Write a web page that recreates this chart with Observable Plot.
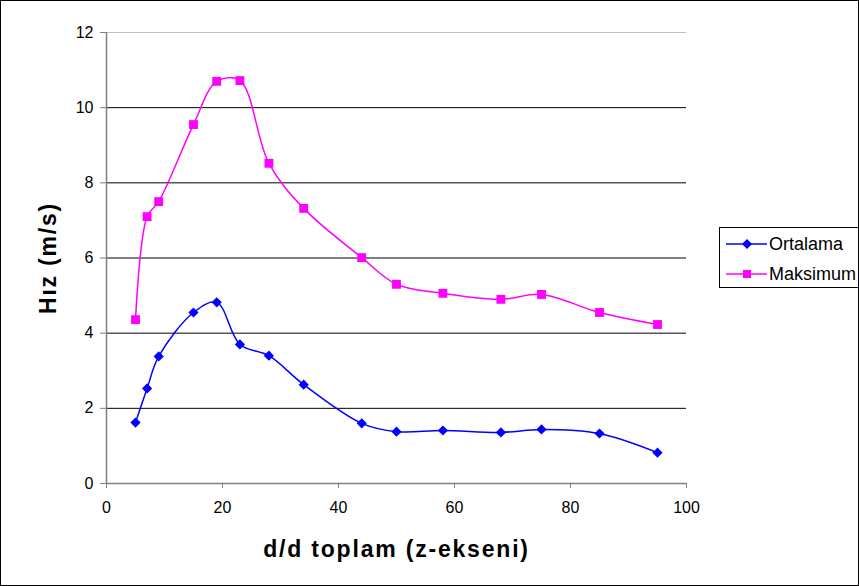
<!DOCTYPE html>
<html><head><meta charset="utf-8">
<script src="https://cdn.jsdelivr.net/npm/d3@7"></script>
<script src="https://cdn.jsdelivr.net/npm/@observablehq/plot@0.6"></script>
<style>
html,body{margin:0;padding:0;background:#fff;}
#wrap{position:relative;width:859px;height:586px;font-family:"Liberation Sans",Arial,sans-serif;overflow:hidden;}
#frame{position:absolute;left:0;top:0;width:857px;height:584px;border:1px solid #000;pointer-events:none;}
#legend{position:absolute;left:719px;top:227px;width:150px;height:59px;border:1px solid #000;background:#fff;font-size:18px;}
.row{position:absolute;left:0;height:24px;display:flex;align-items:center;}
</style>
</head><body>
<div id="wrap"><div id="chart"></div>
<div id="legend"></div>
<div id="frame"></div></div>
<script>
const xValues = [5, 7, 9, 15, 19, 23, 28, 34, 44, 50, 58, 68, 75, 85, 95];
const ortalama = [1.62, 2.53, 3.38, 4.55, 4.82, 3.70, 3.40, 2.63, 1.60, 1.38, 1.41, 1.36, 1.44, 1.33, 0.82];
const maksimum = [4.36, 7.10, 7.50, 9.55, 10.70, 10.72, 8.52, 7.32, 6.01, 5.30, 5.06, 4.90, 5.03, 4.55, 4.23];
const seriesNames = ["Ortalama", "Maksimum"];
const seriesColors = ["#0000ff", "#ff00ff"];
const xTicks = [0, 20, 40, 60, 80, 100];
const yTicks = [0, 2, 4, 6, 8, 10, 12];
const gridTicks = [2, 4, 6, 8, 10];

const ort = xValues.map((x, i) => ({x, y: ortalama[i]}));
const mak = xValues.map((x, i) => ({x, y: maksimum[i]}));

const chart = Plot.plot({
  width: 859, height: 586,
  marginLeft: 106, marginRight: 173, marginTop: 32, marginBottom: 103,
  style: {fontFamily: "Liberation Sans, Arial, sans-serif", fontSize: "16px", color: "#000", background: "transparent"},
  x: {domain: [0, 100], label: null},
  y: {domain: [0, 12], label: null},
  marks: [
    Plot.ruleY(gridTicks, {stroke: "#000", strokeWidth: 1}),
    Plot.ruleY([12], {stroke: "#c0c0c0", strokeWidth: 1}),
    Plot.ruleY([0], {stroke: "#808080", strokeWidth: 1.5}),
    Plot.ruleX([0], {stroke: "#808080", strokeWidth: 1.5}),
    Plot.axisX({ticks: xTicks, tickSize: 5, tickPadding: 13, stroke: "#808080", fill: "#000", fontSize: 16, label: null}),
    Plot.axisY({ticks: yTicks, tickSize: 6, tickPadding: 7, stroke: "#808080", fill: "#000", fontSize: 16, label: null}),
    Plot.line(ort, {x: "x", y: "y", stroke: seriesColors[0], strokeWidth: 1.5, curve: "catmull-rom"}),
    Plot.line(mak, {x: "x", y: "y", stroke: seriesColors[1], strokeWidth: 1.5, curve: "catmull-rom"}),
    Plot.dot(ort, {x: "x", y: "y", symbol: "diamond2", r: 4.6, fill: seriesColors[0], stroke: null}),
    Plot.dot(mak, {x: "x", y: "y", symbol: "square", r: 5, fill: seriesColors[1], stroke: null}),
    Plot.text(["d/d toplam (z-ekseni)"], {frameAnchor: "bottom", textAnchor: "middle", lineAnchor: "middle", dy: 66, fontSize: 23, fontWeight: "bold", fill: "#000", style: "letter-spacing:1.8px"}),
    Plot.text(["Hız (m/s)"], {frameAnchor: "left", textAnchor: "middle", lineAnchor: "middle", dx: -58, rotate: -90, fontSize: 23, fontWeight: "bold", fill: "#000"})
  ]
});
chart.querySelectorAll("text").forEach(t => {
  if (t.textContent === "d/d toplam (z-ekseni)" || t.textContent === "Hız (m/s)") t.style.letterSpacing = "1.8px";
});
document.getElementById("chart").appendChild(chart);

const legend = document.getElementById("legend");
seriesNames.forEach((name, i) => {
  const row = document.createElement("div");
  row.className = "row";
  row.style.top = (i === 0 ? 4 : 34) + "px";
  const marker = i === 0
    ? `<polygon points="27,7 32,12 27,17 22,12" fill="${seriesColors[i]}"/>`
    : `<rect x="23" y="8" width="8" height="8" fill="${seriesColors[i]}"/>`;
  row.innerHTML = `<svg width="49" height="24"><line x1="6" y1="12" x2="47" y2="12" stroke="${seriesColors[i]}" stroke-width="1.5"/>${marker}</svg><span>${name}</span>`;
  legend.appendChild(row);
});
</script>
</body></html>
